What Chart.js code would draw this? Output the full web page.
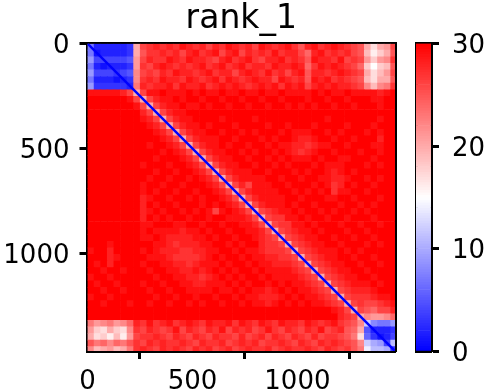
<!DOCTYPE html>
<html>
<head>
<meta charset="utf-8">
<title>rank_1</title>
<script src="https://cdn.jsdelivr.net/npm/chart.js@4"></script>
<style>
  html, body { margin: 0; padding: 0; background: #fff; }
  #wrap { position: relative; width: 490px; height: 392px; }
  canvas { position: absolute; left: 0; top: 0; }
</style>
</head>
<body>
<div id="wrap">
  <canvas id="heat" width="490" height="392"></canvas>
  <canvas id="bar" width="490" height="392"></canvas>
</div>
<script>
const chartTitle = "rank_1";
const axisMax = 1465;
const cellSize = 31.4;
const axisTicks = [0, 500, 1000];
const colorbarTicks = [0, 10, 20, 30];
const colorbarStep = 0.25;
const colorbarLevels = [];
for (let v = 0; v < 30; v += colorbarStep) colorbarLevels.push(v); // the scale itself, not chart data
const diagonalX = [0, 1465];
const diagonalY = [0, 1465];

// one row per 31.4 units (block A 7 cols, middle 35, block C 5)
const heatRows = [
[7,2,2,2,2,2,3, 20,26,27,28,27, 28,27,29,28,27, 28,26,28,27,29, 28,27,28,26,29, 28,27,28,29,27, 25,28,29,27,28, 29,28,27,26,25, 20,17,20,21,26],
[7,1,2,2,2,2,3, 20,25,27,27,28, 27,28,26,28,29, 27,28,29,26,28, 29,26,28,27,28, 27,29,27,28,28, 26,24,28,29,27, 28,27,28,26,25, 19,16,18,20,25],
[9,4,4,4,4,4,5, 21,26,28,27,27, 29,28,27,29,28, 28,27,26,28,29, 27,28,29,27,26, 28,28,29,27,28, 27,25,29,28,28, 27,29,26,27,26, 21,18,21,22,27],
[7,2,1,2,2,2,3, 21,27,26,28,29, 28,27,28,27,28, 29,27,28,29,27, 28,29,27,28,28, 27,29,28,28,29, 28,24,27,29,28, 29,28,27,26,24, 18,15,18,19,25],
[9,4,4,4,3,4,5, 22,26,27,26,28, 27,29,28,28,27, 28,29,27,28,28, 26,28,29,28,27, 29,27,28,26,28, 29,25,28,28,27, 28,29,28,27,26, 20,17,19,21,26],
[7,2,2,2,1,2,3, 22,27,28,27,29, 28,28,27,29,28, 27,28,29,27,29, 28,27,28,29,28, 28,26,29,28,27, 28,25,29,28,29, 27,28,27,26,25, 19,17,20,20,25],
[9,3,3,3,3,3,2, 23,28,27,28,28, 29,27,29,28,28, 29,27,28,29,28, 29,28,27,28,29, 28,29,27,29,28, 29,26,28,29,28, 29,28,28,27,26, 22,19,22,23,27],
[29,29,29,29,29,28,26, 20,26,29,29,30, 29,29,29,30,29, 30,29,29,30,29, 29,30,29,29,30, 29,29,30,29,29, 29,29,30,29,30, 29,29,30,29,29, 29,29,28,29,30],
[30,30,30,30,30,30,29, 26,20,26,28,29, 29,30,29,30,30, 29,30,30,29,30, 30,29,30,30,29, 30,30,29,30,30, 30,29,30,30,29, 30,30,29,30,30, 30,29,29,30,30],
[30,30,30,30,30,30,30, 29,26,20,26,28, 29,29,30,29,29, 30,29,30,30,29, 30,30,29,30,30, 29,30,30,29,30, 29,30,29,30,30, 29,30,30,29,30, 30,30,29,30,30],
[30,30,30,30,30,30,30, 30,28,26,20,26, 28,29,29,30,30, 30,30,30,30,30, 30,30,30,30,30, 30,30,30,30,30, 30,30,30,30,30, 30,30,30,30,30, 30,30,30,30,30],
[30,30,30,30,30,30,30, 30,29,28,26,20, 26,28,29,29,30, 30,30,30,29,30, 30,30,30,29,30, 30,30,30,30,30, 30,30,30,30,29, 30,30,30,30,30, 30,30,29,30,30],
[30,30,30,30,30,30,30, 30,30,29,28,26, 20,26,28,29,29, 30,29,30,30,30, 29,30,30,30,30, 29,30,30,29,30, 30,30,29,30,30, 30,30,29,30,30, 30,29,30,30,30],
[30,30,30,30,30,30,30, 30,30,30,29,28, 26,20,26,28,29, 29,30,30,29,30, 30,29,30,29,30, 30,30,29,30,29, 29,29,30,30,29, 30,29,30,30,30, 29,30,29,30,30],
[30,30,30,30,30,30,30, 30,30,30,30,29, 28,26,20,26,28, 29,29,29,30,30, 29,30,30,30,29, 30,29,30,30,29, 28,28,29,30,30, 29,30,30,29,30, 30,30,28,30,30],
[30,30,30,30,30,30,30, 30,30,29,30,30, 29,28,26,20,26, 28,29,29,30,29, 30,30,29,30,30, 29,30,29,29,28, 28,27,28,29,29, 30,30,29,30,30, 30,29,29,30,30],
[30,30,30,30,30,30,30, 30,30,30,30,29, 30,29,28,26,20, 26,28,29,29,30, 30,29,30,29,30, 30,29,30,29,28, 27,28,29,30,30, 29,30,30,30,29, 30,30,29,30,30],
[30,30,30,30,30,30,30, 30,30,30,29,30, 30,30,29,28,26, 20,26,28,29,29, 30,30,29,30,30, 29,30,29,30,29, 29,29,30,29,30, 30,29,29,30,30, 30,29,30,30,30],
[30,30,30,30,30,30,30, 30,29,30,30,30, 29,30,30,29,28, 26,20,26,28,29, 29,30,30,29,30, 30,29,30,29,30, 30,30,29,30,29, 29,29,30,30,30, 29,30,29,30,30],
[30,30,30,30,30,30,30, 30,30,30,29,30, 30,29,30,30,29, 28,26,20,26,28, 29,29,29,30,30, 29,30,30,30,29, 30,29,30,30,29, 28,29,30,29,30, 30,30,30,30,30],
[30,30,30,30,30,30,30, 30,30,29,30,30, 29,30,30,29,30, 29,28,26,20,26, 28,29,29,29,29, 30,30,29,30,30, 29,30,30,29,29, 28,28,29,30,30, 29,30,29,30,30],
[30,30,30,30,30,30,30, 30,29,30,30,29, 30,30,29,30,30, 30,29,28,26,20, 26,28,26,29,29, 29,30,30,29,30, 30,30,29,30,29, 27,28,30,29,30, 30,29,30,30,30],
[30,30,30,30,30,30,30, 30,29,30,29,30, 30,29,30,30,29, 30,30,29,28,26, 20,26,28,29,29, 29,29,30,30,29, 30,29,30,29,30, 27,29,29,30,30, 29,30,30,30,30],
[30,30,30,30,30,30,30, 30,28,29,30,30, 29,30,30,29,30, 29,30,30,29,28, 26,20,26,28,29, 29,29,29,30,30, 29,30,30,30,29, 29,30,30,29,30, 30,30,29,30,30],
[30,30,30,30,30,30,30, 30,28,30,29,30, 30,29,30,30,30, 29,30,29,30,29, 28,26,20,26,28, 29,29,29,30,29, 30,30,29,30,30, 30,29,30,30,29, 30,29,30,30,30],
[30,30,30,30,30,30,30, 30,28,29,30,29, 30,30,29,30,29, 30,29,26,29,30, 29,28,26,20,26, 27,28,29,29,30, 29,30,30,29,30, 29,30,30,29,30, 29,30,30,30,30],
[30,30,30,30,30,30,30, 30,28,30,29,30, 29,30,30,29,30, 30,29,30,30,29, 29,29,28,26,20, 26,27,27,29,29, 30,29,30,30,29, 30,30,29,30,30, 30,29,30,30,30],
[30,30,30,30,30,30,30, 30,29,29,30,30, 30,29,29,30,30, 29,30,30,29,30, 30,29,29,28,26, 20,26,27,27,29, 29,30,29,30,30, 30,29,30,30,29, 30,30,29,30,30],
[30,30,30,30,30,30,30, 30,29,30,29,29, 29,29,28,29,29, 30,29,30,30,29, 30,30,29,29,28, 26,20,26,27,28, 29,29,30,29,30, 30,30,29,30,30, 29,30,30,30,30],
[30,30,30,30,30,30,30, 30,29,29,30,29, 28,28,28,28,29, 29,30,29,30,30, 29,30,30,29,28, 27,26,20,26,27, 28,29,29,30,30, 29,30,30,29,30, 30,29,30,30,30],
[30,30,30,29,30,30,30, 30,30,30,29,29, 28,27,28,28,28, 29,29,30,30,29, 30,29,30,30,28, 27,27,26,20,26, 27,28,29,29,30, 30,29,30,30,30, 29,30,29,30,30],
[29,30,30,28,30,30,30, 30,29,30,29,28, 28,28,27,27,28, 28,29,29,30,30, 29,30,29,29,28, 27,27,27,26,20, 26,27,28,29,29, 29,30,29,30,29, 30,30,30,30,30],
[30,30,30,28,29,30,30, 30,30,29,29,29, 28,27,27,27,27, 28,29,30,29,30, 30,29,30,29,29, 28,28,27,27,26, 20,26,27,28,29, 29,30,30,29,30, 30,29,30,30,30],
[30,29,30,28,30,30,30, 30,29,30,30,29, 29,28,28,27,28, 29,29,29,30,29, 30,30,29,30,29, 29,28,28,28,27, 26,20,26,27,28, 29,29,30,30,29, 30,30,29,30,30],
[30,30,29,30,30,29,30, 30,30,29,30,30, 29,29,28,28,29, 28,29,30,29,30, 29,30,30,29,30, 29,29,29,29,28, 27,26,20,26,27, 28,29,29,30,30, 29,30,30,30,30],
[29,30,30,29,30,30,30, 30,30,30,29,30, 30,29,29,28,28, 27,28,29,30,29, 30,29,30,30,29, 30,29,29,29,29, 28,27,26,20,26, 27,28,29,29,30, 30,29,30,30,30],
[30,29,30,30,29,30,30, 30,29,30,30,29, 30,30,29,29,28, 28,29,29,29,30, 29,30,29,30,30, 29,30,29,30,29, 29,28,27,26,20, 26,27,28,29,29, 29,30,29,30,30],
[30,30,29,30,30,29,30, 30,30,29,30,30, 29,30,30,29,29, 29,29,30,29,29, 30,29,30,29,29, 28,29,30,29,30, 29,29,28,27,26, 20,26,27,28,28, 28,29,30,30,30],
[29,30,30,29,30,30,30, 30,30,30,29,30, 30,29,30,30,29, 30,30,29,30,30, 29,30,29,29,28, 28,28,29,30,29, 30,29,29,28,27, 26,20,26,27,27, 27,28,29,29,30],
[30,30,29,30,30,30,29, 30,30,29,30,30, 29,30,30,29,30, 29,30,30,29,30, 30,29,30,29,29, 28,29,30,29,30, 29,30,29,29,28, 27,26,20,26,27, 26,26,27,28,29],
[30,30,30,30,30,30,30, 30,30,30,30,30, 30,30,30,30,30, 30,30,30,30,30, 30,30,30,30,30, 30,30,30,30,30, 30,30,30,30,30, 29,28,26,20,26, 25,24,26,26,28],
[30,30,30,30,30,30,30, 30,30,30,30,30, 30,30,30,30,30, 30,30,30,30,30, 30,30,30,30,30, 30,30,30,30,30, 30,30,30,30,30, 30,28,27,26,20, 22,21,21,22,24],
[23,21,22,23,21,22,24, 28,27,29,27,28, 29,27,28,29,28, 27,29,28,28,29, 27,29,28,27,29, 28,27,29,28,28, 27,29,28,27,28, 29,27,26,25,22, 12,8,7,7,9],
[21,18,17,20,18,17,22, 27,26,28,27,26, 27,29,26,28,27, 26,28,27,29,26, 28,27,28,26,27, 29,27,26,28,27, 26,28,27,29,26, 27,28,25,24,20, 5,2,2,2,3],
[20,17,18,16,19,16,21, 26,27,27,28,27, 26,28,27,26,28, 27,26,28,27,27, 26,28,26,27,28, 26,28,27,26,28, 27,26,28,26,27, 27,26,25,23,17, 6,3,1,2,4],
[25,23,24,22,24,23,25, 27,26,28,27,28, 27,27,28,27,26, 28,27,27,28,26, 27,28,27,28,26, 27,27,28,27,26, 28,27,26,28,27, 28,27,26,25,22, 12,10,9,4,11],
[22,19,20,21,19,20,23, 27,28,27,26,28, 27,28,27,26,28, 27,28,26,27,28, 26,27,28,27,27, 28,26,27,28,27, 27,28,27,26,28, 27,26,27,25,23, 14,11,11,10,3]
];

const cells = [];
heatRows.forEach((row, r) => {
  row.forEach((v, c) => {
    cells.push({ x: (c + 0.5) * cellSize, y: [r * cellSize, (r + 1) * cellSize], v: v });
  });
});

// blue - white - red, 0 to 30
function bwr(v) {
  if (v < 15) {
    const k = Math.round(v / 15 * 255);
    return `rgb(${k},${k},255)`;
  }
  const k = Math.round((30 - v) / 15 * 255);
  return `rgb(255,${k},${k})`;
}

const font = { family: "'DejaVu Sans'", size: 26 };
const spine = { display: true, color: "#000", width: 3 };
const tickMarks = { drawOnChartArea: false, drawTicks: true, tickLength: 8, tickWidth: 3, tickColor: "#000" };

// top and right spines, no ticks
function frameAxis(position) {
  return {
    position: position,
    min: 0,
    max: axisMax,
    border: spine,
    grid: { display: false },
    ticks: { display: false },
    afterFit: (s) => { if (position === "top") s.height = 0; else s.width = 0; },
  };
}

new Chart(document.getElementById("heat"), {
  type: "bar",
  data: {
    datasets: [
      {
        type: "line",
        data: diagonalX.map((x, i) => ({ x: x, y: diagonalY[i] })),
        borderColor: "#0000ff",
        borderWidth: 2.5,
        pointRadius: 0,
        order: 0,
      },
      {
        data: cells,
        backgroundColor: (ctx) => bwr(ctx.raw ? ctx.raw.v : 30),
        borderWidth: 0,
        barPercentage: 1,
        categoryPercentage: 1,
        order: 1,
      },
    ],
  },
  options: {
    responsive: false,
    animation: false,
    layout: { padding: { top: 0, right: 95, left: 0, bottom: 0 } },
    plugins: {
      legend: { display: false },
      tooltip: { enabled: false },
      title: {
        display: true,
        text: chartTitle,
        fullSize: false,
        color: "#000",
        font: { family: "'DejaVu Sans'", size: 33, weight: "normal" },
        padding: { top: 0, bottom: 4 },
      },
    },
    scales: {
      x: {
        type: "linear",
        min: 0,
        max: axisMax,
        offset: false,
        border: spine,
        grid: tickMarks,
        afterBuildTicks: (s) => { s.ticks = axisTicks.map((v) => ({ value: v })); },
        ticks: { color: "#000", font: font, padding: 8, maxRotation: 0, callback: (v) => String(v) },
        afterFit: (s) => { s.height = 41; },
      },
      y: {
        type: "linear",
        reverse: true,
        min: 0,
        max: axisMax,
        border: spine,
        grid: tickMarks,
        afterBuildTicks: (s) => { s.ticks = axisTicks.map((v) => ({ value: v })); },
        ticks: { color: "#000", font: font, padding: 10, labelOffset: 3, callback: (v) => String(v) },
        afterFit: (s) => { s.width = 87.5; },
      },
      xTop: frameAxis("top"),
      yRight: frameAxis("right"),
    },
  },
});

new Chart(document.getElementById("bar"), {
  type: "bar",
  data: {
    labels: ["c"],
    datasets: [
      {
        data: colorbarLevels.map((v) => ({ x: "c", y: [v, v + colorbarStep], v: v + colorbarStep / 2 })),
        backgroundColor: (ctx) => bwr(ctx.raw ? ctx.raw.v : 30),
        borderWidth: 0,
        barPercentage: 1,
        categoryPercentage: 1,
      },
    ],
  },
  options: {
    responsive: false,
    animation: false,
    layout: { padding: { top: 43.5, right: 0, left: 416, bottom: 41 } },
    plugins: { legend: { display: false }, tooltip: { enabled: false } },
    scales: {
      x: {
        type: "category",
        border: spine,
        grid: { display: false },
        ticks: { display: false },
        afterFit: (s) => { s.height = 0; },
      },
      y: {
        position: "right",
        min: 0,
        max: 30,
        border: spine,
        grid: tickMarks,
        afterBuildTicks: (s) => { s.ticks = colorbarTicks.map((v) => ({ value: v })); },
        ticks: { color: "#000", font: font, padding: 13, labelOffset: 3 },
        afterFit: (s) => { s.width = 59; },
      },
      xTop: { type: "category", position: "top", border: spine, grid: { display: false }, ticks: { display: false }, afterFit: (s) => { s.height = 0; } },
      yLeft: { position: "left", min: 0, max: 30, border: spine, grid: { display: false }, ticks: { display: false }, afterFit: (s) => { s.width = 0; } },
    },
  },
});
</script>
</body>
</html>
